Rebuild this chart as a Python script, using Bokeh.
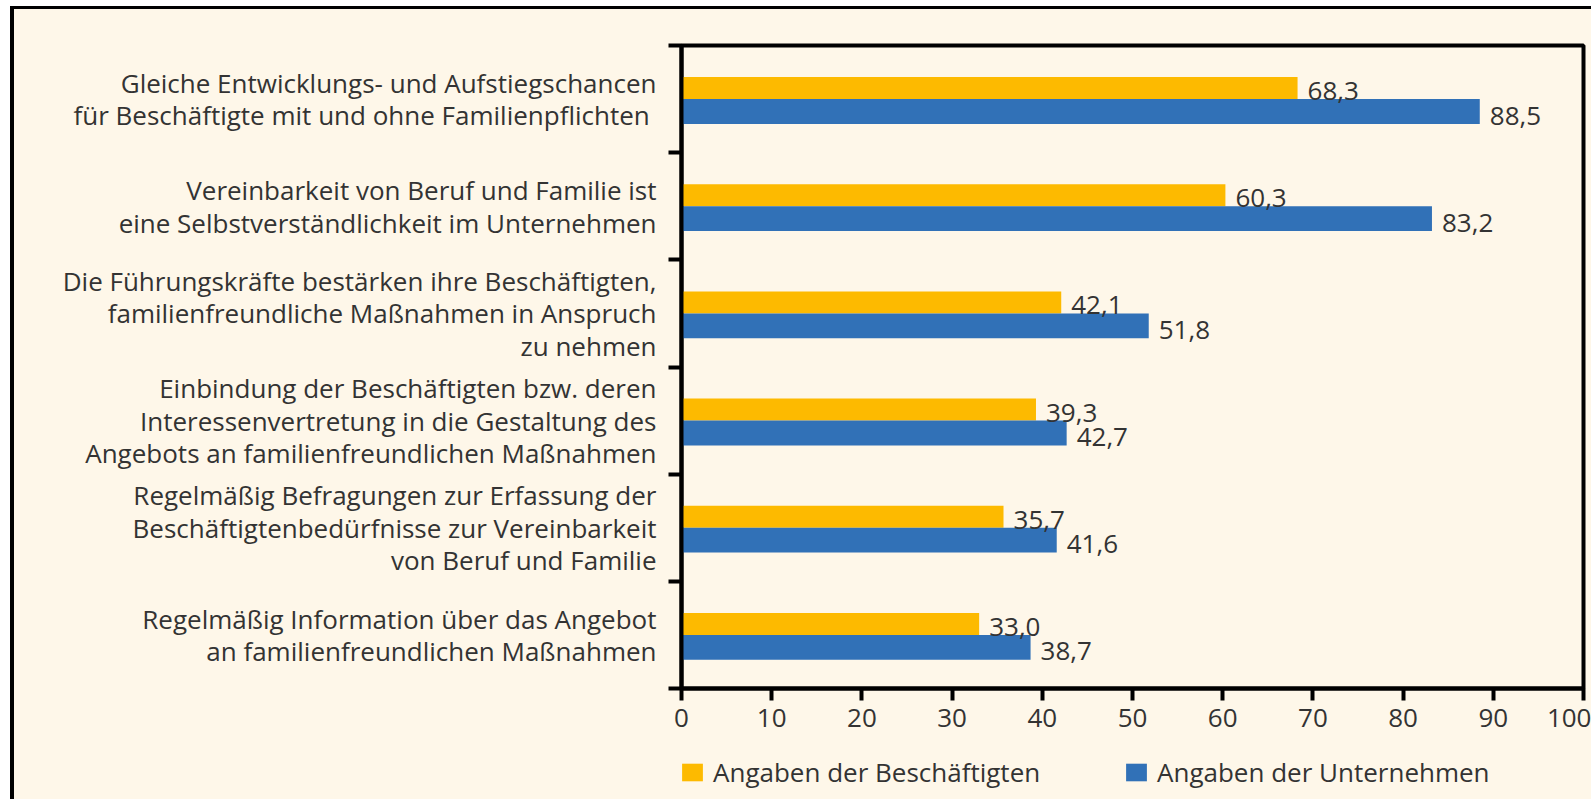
from bokeh.plotting import figure
from bokeh.models import (ColumnDataSource, Legend, LegendItem,
                          FixedTicker, Range1d)
from bokeh.layouts import column
from bokeh.core.properties import value
from bokeh.embed import file_html
from bokeh.resources import INLINE

# ---------------- data ----------------
categories = [
    "Gleiche Entwicklungs- und Aufstiegschancen\nfür Beschäftigte  mit und ohne Familienpflichten",
    "Vereinbarkeit von Beruf und Familie ist\neine Selbstverständlichkeit im Unternehmen",
    "Die Führungskräfte bestärken ihre Beschäftigten,\nfamilienfreundliche Maßnahmen in Anspruch\nzu nehmen",
    "Einbindung der Beschäftigten bzw. deren\nInteressenvertretung in die Gestaltung des\nAngebots an familienfreundlichen Maßnahmen",
    "Regelmäßig Befragungen zur Erfassung der\nBeschäftigtenbedürfnisse zur Vereinbarkeit\nvon Beruf und Familie",
    "Regelmäßig Information über das Angebot\nan familienfreundlichen Maßnahmen",
]
beschaeftigte = [68.3, 60.3, 42.1, 39.3, 35.7, 33.0]
unternehmen = [88.5, 83.2, 51.8, 42.7, 41.6, 38.7]
series_names = ["Angaben der Beschäftigten", "Angaben der Unternehmen"]
x_ticks = [0, 10, 20, 30, 40, 50, 60, 70, 80, 90, 100]

# ---------------- styling ----------------
FONT = "Open Sans"
FS = "26px"
TXT = "#333333"
BG = "#FEF7E9"
YELLOW = "#FDBA00"
BLUE = "#3171B7"
W = 1577

n = len(categories)
centers = [n - 0.5 - i for i in range(n)]
h_y, h_b = 0.205, 0.232
y_yellow = [c + h_y / 2 for c in centers]
y_blue = [c - h_b / 2 for c in centers]

def fmt(v):
    return f"{v:.1f}".replace(".", ",")

src_y = ColumnDataSource(dict(y=y_yellow, v=beschaeftigte, t=[fmt(v) for v in beschaeftigte]))
src_b = ColumnDataSource(dict(y=y_blue, v=unternehmen, t=[fmt(v) for v in unternehmen]))

p = figure(width=W, height=731, output_backend="svg", toolbar_location=None,
           x_range=Range1d(0, 100), y_range=Range1d(0, n),
           min_border_left=667, min_border_right=8, min_border_top=36,
           min_border_bottom=52)
p.background_fill_color = BG
p.border_fill_color = BG
p.outline_line_color = "black"
p.outline_line_width = 4
p.xgrid.visible = False
p.ygrid.visible = False

r_y = p.hbar(y="y", left=0, right="v", height=h_y, source=src_y,
             fill_color=YELLOW, line_color=None)
r_b = p.hbar(y="y", left=0, right="v", height=h_b, source=src_b,
             fill_color=BLUE, line_color=None)

for src, dy in ((src_y, 3), (src_b, 4)):
    p.text(x="v", y="y", text="t", source=src, x_offset=10, y_offset=dy,
           text_align="left", text_baseline="middle",
           text_font=value(FONT), text_font_size=FS, text_color=TXT)

# x axis
xa = p.xaxis[0]
xa.ticker = FixedTicker(ticks=x_ticks)
xa.axis_line_width = 4
xa.major_tick_line_width = 4
xa.major_tick_out = 12
xa.major_tick_in = 0
xa.minor_tick_line_color = None
xa.major_label_standoff = 8
xa.major_label_text_font = FONT
xa.major_label_text_font_size = FS
xa.major_label_text_color = TXT

# y axis: boundary ticks as minor ticks, category labels at centres
ya = p.yaxis[0]
ya.ticker = FixedTicker(ticks=centers, minor_ticks=list(range(n + 1)))
ya.axis_line_width = 4
ya.major_tick_line_color = None
ya.major_tick_out = 0
ya.major_tick_in = 0
ya.minor_tick_line_color = "black"
ya.minor_tick_line_width = 4
ya.minor_tick_out = 13
ya.minor_tick_in = 0
ya.major_label_overrides = {c: lab for c, lab in zip(centers, categories)}
ya.major_label_standoff = 12
ya.major_label_text_font = FONT
ya.major_label_text_font_size = FS
ya.major_label_text_line_height = 0.905
ya.major_label_text_color = TXT

# legend strip (separate figure below, so the legend is not clipped)
H2 = 59
p2 = figure(width=W, height=H2, output_backend="svg", toolbar_location=None,
            x_range=Range1d(1000, 1100), y_range=Range1d(1000, 1000 + H2),
            min_border_left=0, min_border_right=0, min_border_top=0,
            min_border_bottom=0, x_axis_location=None, y_axis_location=None)
p2.background_fill_color = BG
p2.border_fill_color = BG
p2.outline_line_color = None
p2.xgrid.visible = False
p2.ygrid.visible = False
# same series, far outside this strip's visible range: only their legend swatches show
l_y = p2.hbar(y="y", left=0, right="v", height=h_y, source=src_y,
              fill_color=YELLOW, line_color=None)
l_b = p2.hbar(y="y", left=0, right="v", height=h_b, source=src_b,
              fill_color=BLUE, line_color=None)

legend = Legend(items=[LegendItem(label=series_names[0], renderers=[l_y]),
                       LegendItem(label=series_names[1], renderers=[l_b])],
                orientation="horizontal", location=(-2, 9),
                glyph_width=26, glyph_height=22, label_standoff=8,
                label_width=410, label_height=22, spacing=0, padding=0, margin=0,
                border_line_color=None, background_fill_alpha=0,
                label_text_font=FONT, label_text_font_size=FS,
                label_text_color=TXT)
p2.add_layout(legend, "center")

layout = column(p, p2, spacing=0)
layout.styles = {"border-top": "3px solid black", "border-left": "4px solid black",
                 "margin-left": "10px", "margin-top": "6px",
                 "background-color": BG}

open("out.html", "w").write(file_html(layout, INLINE))
